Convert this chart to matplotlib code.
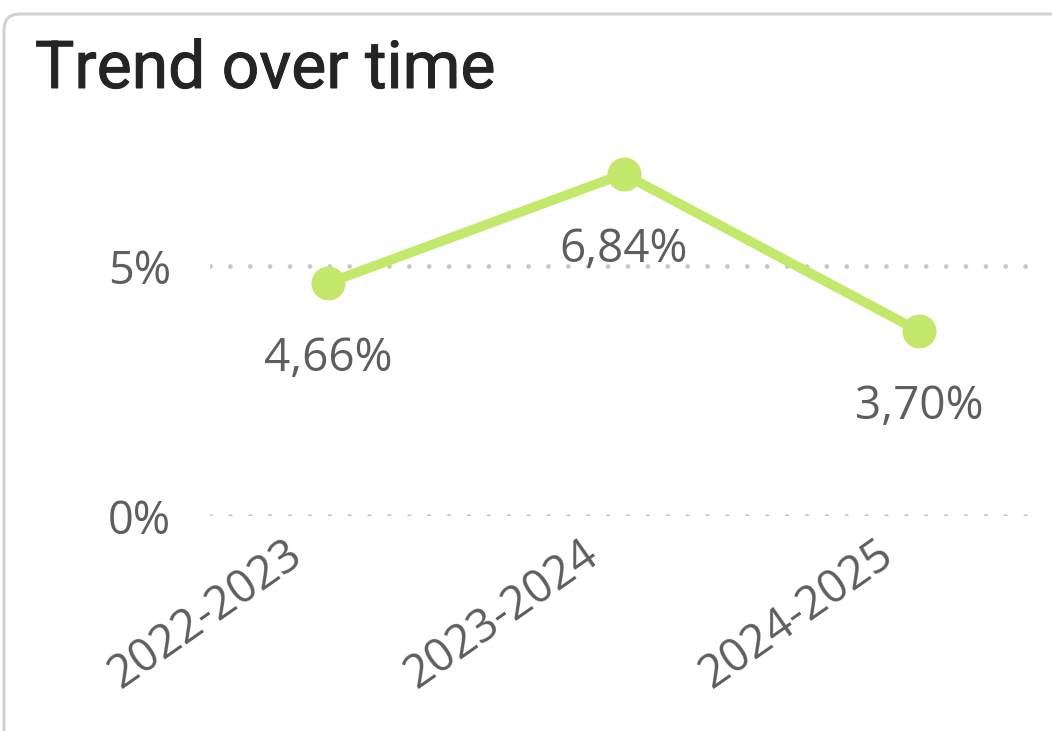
import matplotlib.pyplot as plt
import matplotlib.transforms as mtransforms
import matplotlib.patheffects as pe
from matplotlib.patches import FancyBboxPatch

# Dados do gráfico
periods = ['2022-2023', '2023-2024', '2024-2025']
values = [4.66, 6.84, 3.70]
labels = ['4,66%', '6,84%', '3,70%']
yticks = [0, 5]
ytick_labels = ['0%', '5%']

line_color = '#C4E86B'
text_color = '#605E5C'
grid_color = '#C8C6C4'

W, H = 1052, 731
fig = plt.figure(figsize=(W / 100, H / 100), dpi=100)
fig.patch.set_facecolor('white')

# Moldura do cartão (coordenadas em pixels)
card = FancyBboxPatch((4, -60), 1200, H - 13 + 60 - 1,
                      boxstyle='round,pad=0,rounding_size=16',
                      transform=mtransforms.IdentityTransform(),
                      facecolor='none', edgecolor='#D2D2D2', linewidth=2.2,
                      zorder=-1)
fig.add_artist(card)

fig.text(35 / W, 1 - 88 / H, 'Trend over time', fontsize=47.5, color='#252423',
         family='Roboto', fontweight='normal', ha='left', va='baseline',
         path_effects=[pe.withStroke(linewidth=0.7, foreground='#252423')])

ax = fig.add_axes([210 / W, (H - 516) / H, 830 / W, 387 / H])
ax.set_facecolor('none')
x = list(range(len(periods)))
ax.set_xlim(-0.4, 2.41)
ax.set_ylim(0, 7.74)

for y in yticks:
    ax.axhline(y, color=grid_color, linewidth=3.4, linestyle=(0, (0.01, 4.2)),
               dash_capstyle='round', zorder=1)

ax.plot(x, values, color=line_color, linewidth=7, marker='o', markersize=23.5,
        solid_capstyle='round', zorder=3, clip_on=False)

for xi, v, lab in zip(x, values, labels):
    ax.annotate(lab, (xi, v), xytext=(0, -55), textcoords='offset points',
                ha='center', va='center', fontsize=33, color=text_color,
                family='Open Sans')

ax.set_yticks(yticks)
ax.set_yticklabels(ytick_labels, fontsize=32.5, color=text_color, family='Open Sans')
ax.set_xticks(x)
ax.set_xticklabels([])
ax.tick_params(axis='y', length=0, pad=28)
ax.tick_params(axis='x', length=0)

# rótulos do eixo x, rodados e deslocados para a esquerda
shift = mtransforms.ScaledTranslation(-43 / 100, -15 / 100, fig.dpi_scale_trans)
for xi, p in zip(x, periods):
    ax.text(xi, 0, p, transform=ax.get_xaxis_transform() + shift,
            fontsize=33, color=text_color, family='Open Sans',
            rotation=35, ha='right', va='top', rotation_mode='anchor',
            clip_on=False)

for s in ax.spines.values():
    s.set_visible(False)

fig.savefig('out.png', dpi=100)
